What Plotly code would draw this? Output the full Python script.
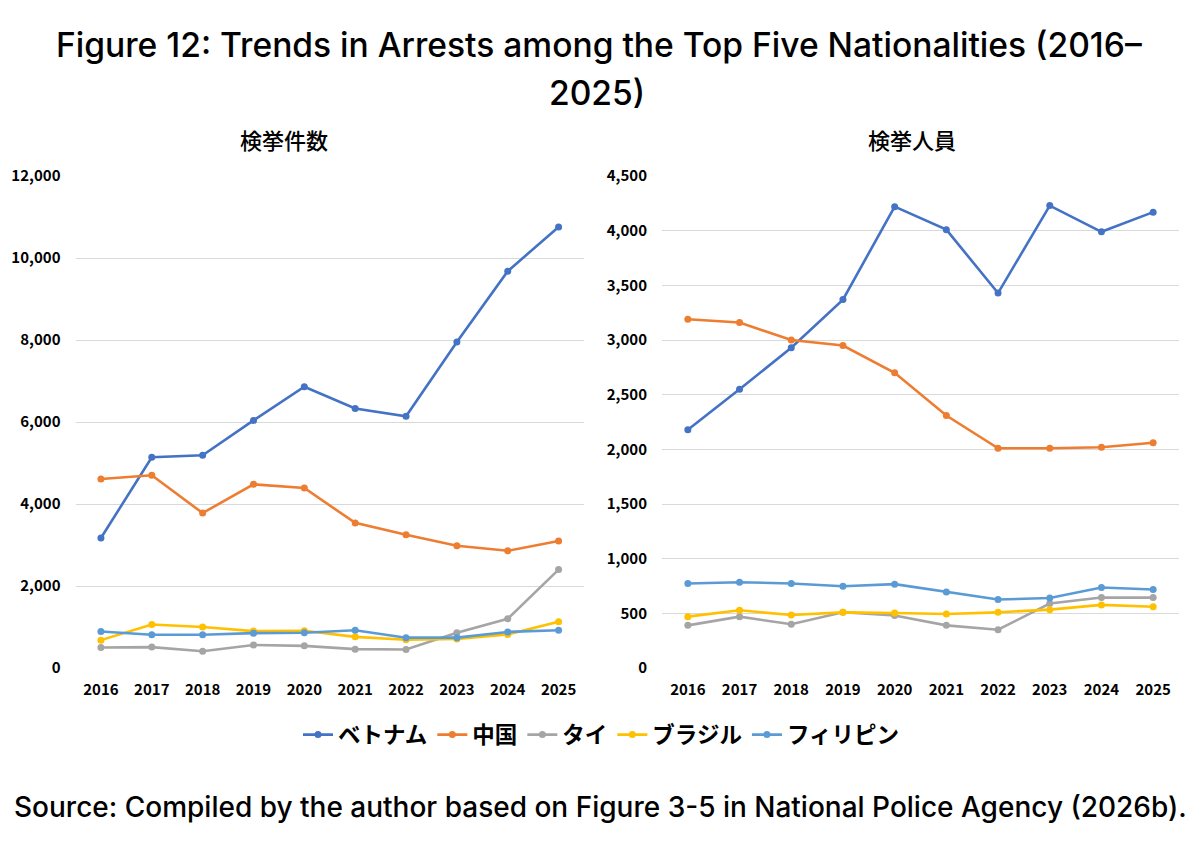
import plotly.graph_objects as go
from plotly.subplots import make_subplots

years = [str(y) for y in range(2016, 2026)]

# 検挙件数 (cases)
cases_vietnam = [3170, 5140, 5190, 6040, 6860, 6330, 6140, 7950, 9680, 10760]
cases_china = [4610, 4700, 3780, 4480, 4390, 3540, 3250, 2980, 2860, 3100]
cases_thai = [500, 510, 410, 560, 540, 460, 450, 860, 1200, 2400]
cases_brazil = [680, 1060, 1000, 900, 910, 760, 690, 710, 820, 1130]
cases_philippines = [890, 810, 810, 850, 860, 920, 740, 740, 880, 920]

# 検挙人員 (persons)
persons_vietnam = [2180, 2550, 2930, 3370, 4220, 4010, 3430, 4230, 3990, 4170]
persons_china = [3190, 3160, 3000, 2950, 2700, 2310, 2010, 2010, 2020, 2060]
persons_thai = [390, 470, 400, 510, 480, 390, 350, 590, 645, 644]
persons_brazil = [470, 528, 485, 509, 503, 494, 509, 534, 577, 561]
persons_philippines = [773, 785, 773, 748, 767, 696, 626, 641, 736, 718]

names = ["ベトナム", "中国", "タイ", "ブラジル", "フィリピン"]
colors = ["#4472C4", "#ED7D31", "#A5A5A5", "#FFC000", "#5B9BD5"]
left = [cases_vietnam, cases_china, cases_thai, cases_brazil, cases_philippines]
right = [persons_vietnam, persons_china, persons_thai, persons_brazil, persons_philippines]

W, H = 1184, 835  # page adds 8px body margin


def px(x):
    return min(max((x - 8) / W, 0), 1)


def py(y):
    # screenshot came out squeezed a little vertically, compensate
    t = (y - 13.1) / 0.975
    return 1 - (t - 8) / H


cjk = "Noto Sans CJK JP"
latin = "Inter"

fig = make_subplots(rows=1, cols=2)
for i, name in enumerate(names):
    fig.add_trace(go.Scatter(
        x=years, y=left[i], name=name, mode="lines+markers",
        line=dict(color=colors[i], width=2.6),
        marker=dict(size=7, color=colors[i]),
        legendgroup=name,
    ), row=1, col=1)
for i, name in enumerate(names):
    fig.add_trace(go.Scatter(
        x=years, y=right[i], name=name, mode="lines+markers",
        line=dict(color=colors[i], width=2.6),
        marker=dict(size=7, color=colors[i]),
        legendgroup=name, showlegend=False,
    ), row=1, col=2)

tickfont = dict(family=cjk, size=15, color="#000000", weight="bold")
ydom = [py(669), py(177)]
fig.update_xaxes(type="category", range=[-0.5, 9.5], showgrid=False, zeroline=False,
                 showline=False, ticks="", tickfont=tickfont, ticklabelstandoff=11)
fig.update_layout(
    xaxis=dict(domain=[px(75.5), px(584)]),
    xaxis2=dict(domain=[px(662), px(1179)]),
    yaxis=dict(domain=ydom, range=[0, 12000], dtick=2000, tickformat=",d"),
    yaxis2=dict(domain=ydom, range=[0, 4500], dtick=500, tickformat=",d"),
)
fig.update_yaxes(showgrid=True, gridcolor="#D9D9D9", gridwidth=1, zeroline=False,
                 showline=False, ticks="", tickfont=tickfont, ticklabelstandoff=14)


def label(text, x, y, size, family, weight=500):
    fig.add_annotation(text=text, x=px(x), y=py(y), xref="paper", yref="paper",
                       xanchor="center", yanchor="middle", showarrow=False,
                       font=dict(family=family, size=size, color="#000000", weight=weight))


label("Figure 12: Trends in Arrests among the Top Five Nationalities (2016–", 599, 45, 33.6, latin, 500)
label("2025)", 597, 93, 33.6, latin, 500)
label("検挙件数", 284, 140, 22, cjk)
label("検挙人員", 912, 140, 22, cjk)
label("Source: Compiled by the author based on Figure 3-5 in National Police Agency (2026b).",
      600, 808, 28, latin, 500)

fig.update_layout(
    width=W, height=H,
    margin=dict(l=0, r=0, t=0, b=0),
    paper_bgcolor="white", plot_bgcolor="white",
    legend=dict(orientation="h", x=px(601), xanchor="center", y=py(736), yanchor="middle",
                font=dict(family=cjk, size=22.5, color="#000000", weight="bold"),
                itemwidth=30),
)

fig.write_html("out.html")
